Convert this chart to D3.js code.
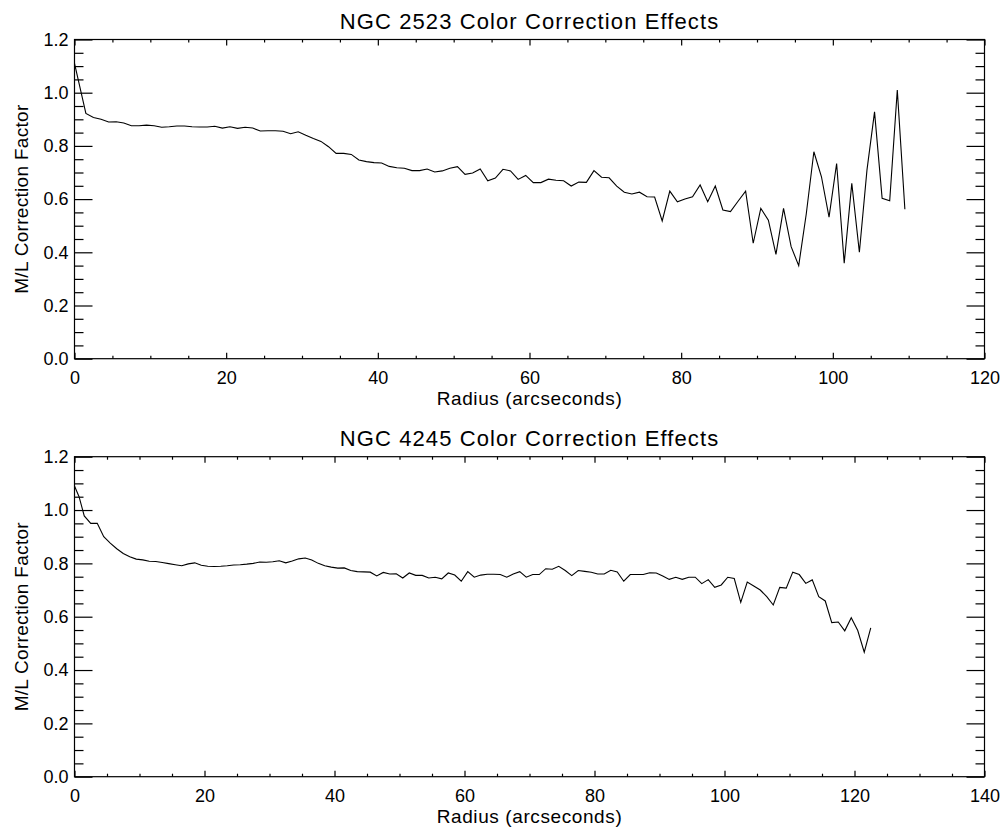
<!DOCTYPE html>
<html>
<head>
<meta charset="utf-8">
<script src="https://cdn.jsdelivr.net/npm/d3@7"></script>
<style>
    body { margin: 0; background: #fff; }
    svg text { font-family: "Liberation Sans", Arial, Helvetica, sans-serif; fill: #000; }
</style>
</head>
<body>
<div id="chart"></div>
<script>
// ---- data ----
const radii2523 = [0, 1.5, 2.5, 3.5, 4.5, 5.5, 6.5, 7.5, 8.5, 9.5, 10.5, 11.5, 12.5, 13.5, 14.5, 15.5, 16.5, 17.5, 18.5, 19.5,
    20.5, 21.5, 22.5, 23.5, 24.5, 25.5, 26.5, 27.5, 28.5, 29.5, 30.5, 31.5, 32.5, 33.5, 34.5, 35.5, 36.5, 37.5, 38.5, 39.5,
    40.5, 41.5, 42.5, 43.5, 44.5, 45.5, 46.5, 47.5, 48.5, 49.5, 50.5, 51.5, 52.5, 53.5, 54.5, 55.5, 56.5, 57.5, 58.5, 59.5,
    60.5, 61.5, 62.5, 63.5, 64.5, 65.5, 66.5, 67.5, 68.5, 69.5, 70.5, 71.5, 72.5, 73.5, 74.5, 75.5, 76.5, 77.5, 78.5, 79.5,
    80.5, 81.5, 82.5, 83.5, 84.5, 85.5, 86.5, 87.5, 88.5, 89.5, 90.5, 91.5, 92.5, 93.5, 94.5, 95.5, 96.5, 97.5, 98.5, 99.5,
    100.5, 101.5, 102.5, 103.5, 104.5, 105.5, 106.5, 107.5, 108.5, 109.5];
const mlFactor2523 = [1.110, 0.922, 0.907, 0.900, 0.890, 0.891, 0.886, 0.876, 0.876, 0.878, 0.876, 0.870, 0.872, 0.875, 0.875, 0.872, 0.871, 0.871, 0.874, 0.867,
    0.872, 0.866, 0.870, 0.867, 0.856, 0.857, 0.857, 0.855, 0.846, 0.853, 0.840, 0.828, 0.817, 0.797, 0.772, 0.772, 0.768, 0.747, 0.741, 0.737,
    0.736, 0.723, 0.718, 0.716, 0.707, 0.707, 0.713, 0.702, 0.706, 0.716, 0.722, 0.693, 0.698, 0.713, 0.669, 0.679, 0.712, 0.706, 0.674, 0.689,
    0.662, 0.662, 0.675, 0.671, 0.669, 0.649, 0.664, 0.663, 0.707, 0.682, 0.680, 0.649, 0.626, 0.619, 0.626, 0.609, 0.608, 0.518, 0.630, 0.590,
    0.600, 0.609, 0.653, 0.590, 0.649, 0.559, 0.553, 0.592, 0.630, 0.434, 0.565, 0.521, 0.392, 0.565, 0.421, 0.350, 0.545, 0.778, 0.684, 0.532,
    0.734, 0.359, 0.659, 0.400, 0.709, 0.928, 0.603, 0.594, 1.010, 0.562];

const radii4245 = [0, 0.7, 1.5, 2.5, 3.5, 4.5, 5.5, 6.5, 7.5, 8.5, 9.5, 10.5, 11.5, 12.5, 13.5, 14.5, 15.5, 16.5, 17.5, 18.5, 19.5,
    20.5, 21.5, 22.5, 23.5, 24.5, 25.5, 26.5, 27.5, 28.5, 29.5, 30.5, 31.5, 32.5, 33.5, 34.5, 35.5, 36.5, 37.5, 38.5, 39.5,
    40.5, 41.5, 42.5, 43.5, 44.5, 45.5, 46.5, 47.5, 48.5, 49.5, 50.5, 51.5, 52.5, 53.5, 54.5, 55.5, 56.5, 57.5, 58.5, 59.5,
    60.5, 61.5, 62.5, 63.5, 64.5, 65.5, 66.5, 67.5, 68.5, 69.5, 70.5, 71.5, 72.5, 73.5, 74.5, 75.5, 76.5, 77.5, 78.5, 79.5,
    80.5, 81.5, 82.5, 83.5, 84.5, 85.5, 86.5, 87.5, 88.5, 89.5, 90.5, 91.5, 92.5, 93.5, 94.5, 95.5, 96.5, 97.5, 98.5, 99.5,
    100.5, 101.5, 102.5, 103.5, 104.5, 105.5, 106.5, 107.5, 108.5, 109.5, 110.5, 111.5, 112.5, 113.5, 114.5, 115.5, 116.5, 117.5, 118.5, 119.5,
    120.5, 121.5, 122.5];
const mlFactor4245 = [1.090, 1.050, 0.978, 0.950, 0.950, 0.900, 0.876, 0.855, 0.837, 0.825, 0.816, 0.813, 0.808, 0.807, 0.803, 0.799, 0.795, 0.791, 0.798, 0.802, 0.793,
    0.789, 0.788, 0.789, 0.791, 0.794, 0.795, 0.797, 0.800, 0.805, 0.804, 0.806, 0.810, 0.802, 0.809, 0.817, 0.820, 0.813, 0.800, 0.791, 0.786,
    0.782, 0.783, 0.773, 0.769, 0.768, 0.767, 0.753, 0.766, 0.760, 0.761, 0.745, 0.764, 0.755, 0.755, 0.745, 0.748, 0.742, 0.764, 0.756, 0.733,
    0.769, 0.748, 0.756, 0.759, 0.759, 0.758, 0.748, 0.760, 0.769, 0.748, 0.758, 0.758, 0.780, 0.778, 0.789, 0.773, 0.754, 0.773, 0.770, 0.767,
    0.760, 0.760, 0.774, 0.768, 0.733, 0.758, 0.758, 0.758, 0.765, 0.764, 0.753, 0.740, 0.748, 0.740, 0.748, 0.748, 0.724, 0.739, 0.710, 0.719,
    0.748, 0.743, 0.654, 0.730, 0.715, 0.700, 0.675, 0.644, 0.710, 0.707, 0.767, 0.758, 0.725, 0.738, 0.675, 0.659, 0.578, 0.580, 0.547, 0.596,
    0.548, 0.467, 0.558];

const yTicks = [0.0, 0.2, 0.4, 0.6, 0.8, 1.0, 1.2];
const xTicks2523 = [0, 20, 40, 60, 80, 100, 120];
const xTicks4245 = [0, 20, 40, 60, 80, 100, 120, 140];

const yTitle = 'M/L Correction Factor';
const xTitle = 'Radius (arcseconds)';

/*
one IDL style panel: closed box, ticks pointing inwards on all four sides,
minor ticks between the labelled ones
*/
class CorrectionPlot {

    svg;
    chart; // g element holding the panel
    width;
    height;
    #scaleX;
    #scaleY;

    constructor(svg, left, top, width, height) {
        this.svg = svg;
        this.width = width;
        this.height = height;
        this.chart = svg.append('g')
            .attr('transform', `translate(${left},${top})`);
    }

    render(radii, values, xTicks, title) {
        let xMax = xTicks[xTicks.length - 1];
        this.#scaleX = d3.scaleLinear([0, xMax], [0, this.width]);
        this.#scaleY = d3.scaleLinear([0, 1.2], [this.height, 0]);

        this.#addAxes(xTicks);

        let line = d3.line()
            .x((d, i) => this.#scaleX(radii[i]))
            .y(d => this.#scaleY(d));

        this.chart.append('path')
            .datum(values)
            .attr('fill', 'none')
            .attr('stroke', '#000')
            .attr('stroke-width', 1.1)
            .attr('stroke-linejoin', 'miter')
            .attr('d', line);

        // titles - the original Helvetica runs a bit wider than Arial, hence the spacing
        this.chart.append('text')
            .attr('x', this.width / 2)
            .attr('y', -11)
            .attr('text-anchor', 'middle')
            .style('font-size', '22px')
            .style('letter-spacing', '1.1px')
            .text(title);

        this.chart.append('text')
            .attr('x', this.width / 2)
            .attr('y', this.height + 46)
            .attr('text-anchor', 'middle')
            .style('font-size', '19px')
            .style('letter-spacing', '0.6px')
            .text(xTitle);

        this.chart.append('text')
            .attr('transform', `translate(-47,${this.height / 2}) rotate(-90)`)
            .attr('text-anchor', 'middle')
            .style('font-size', '19px')
            .style('letter-spacing', '0.3px')
            .text(yTitle);
    }

    #addAxes(xTicks) {
        let xMax = xTicks[xTicks.length - 1];
        let xMinor = d3.range(0, xMax + 0.1, 5).filter(v => v % 20 !== 0);
        let yMinor = d3.range(0, 1.21, 0.05).filter((v, i) => i % 4 !== 0);

        let put = (axis, dx, dy) => {
            let g = this.chart.append('g')
                .attr('transform', `translate(${dx},${dy})`)
                .call(axis);
            g.select('.domain').remove();
            g.selectAll('line').attr('stroke', '#000').attr('stroke-width', 1.2);
            g.selectAll('text').style('font-size', '18px').attr('fill', '#000');
            return g;
        };

        // left + right, labelled only on the left
        put(d3.axisLeft(this.#scaleY).tickValues(yTicks).tickSize(-18).tickPadding(6).tickFormat(d3.format('.1f')), 0, 0);
        put(d3.axisLeft(this.#scaleY).tickValues(yMinor).tickSize(-9).tickFormat(''), 0, 0);
        put(d3.axisRight(this.#scaleY).tickValues(yTicks).tickSize(-18).tickFormat(''), this.width, 0);
        put(d3.axisRight(this.#scaleY).tickValues(yMinor).tickSize(-9).tickFormat(''), this.width, 0);

        // bottom + top
        put(d3.axisBottom(this.#scaleX).tickValues(xTicks).tickSize(-6).tickPadding(12.5).tickFormat(d3.format('d')), 0, this.height);
        put(d3.axisBottom(this.#scaleX).tickValues(xMinor).tickSize(-3).tickFormat(''), 0, this.height);
        put(d3.axisTop(this.#scaleX).tickValues(xTicks).tickSize(-6).tickFormat(''), 0, 0);
        put(d3.axisTop(this.#scaleX).tickValues(xMinor).tickSize(-3).tickFormat(''), 0, 0);

        // box
        this.chart.append('rect')
            .attr('width', this.width)
            .attr('height', this.height)
            .attr('fill', 'none')
            .attr('stroke', '#000')
            .attr('stroke-width', 1.2);
    }
}

const svg = d3.select('#chart')
    .append('svg')
    .attr('width', 1003)
    .attr('height', 827);

new CorrectionPlot(svg, 74.5, 39.5, 910, 319.2)
    .render(radii2523, mlFactor2523, xTicks2523, 'NGC 2523 Color Correction Effects');

new CorrectionPlot(svg, 74.5, 456.7, 910, 320)
    .render(radii4245, mlFactor4245, xTicks4245, 'NGC 4245 Color Correction Effects');
</script>
</body>
</html>
